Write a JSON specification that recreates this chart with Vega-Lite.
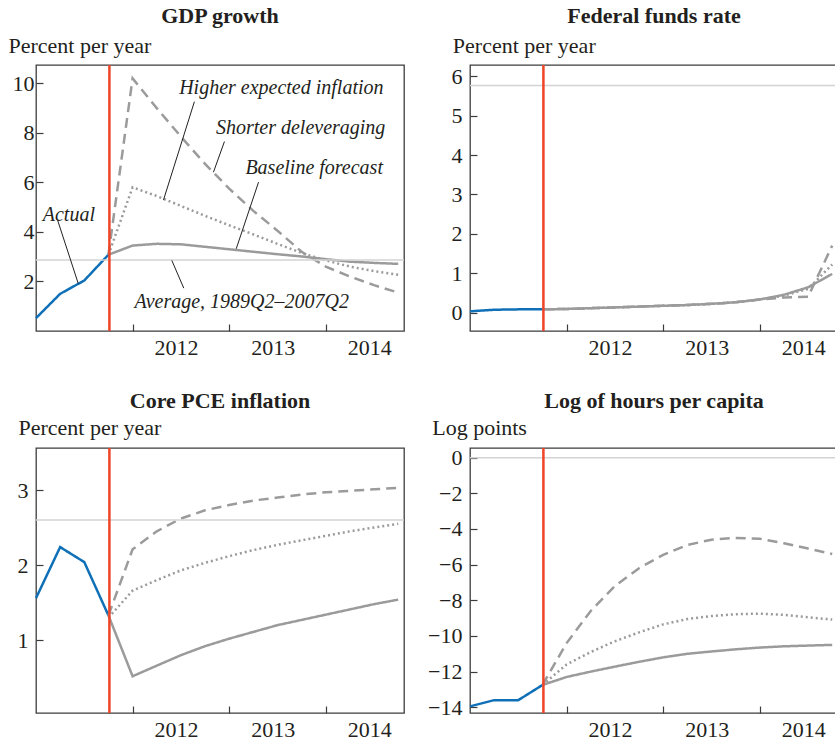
{
  "$schema": "https://vega.github.io/schema/vega-lite/v6.json",
  "padding": {"left": 7, "top": 4, "right": 0, "bottom": 0},
  "columns": 2,
  "align": "each",
  "spacing": {"row": 30, "column": 20},
  "datasets": {
    "lines": [
      {"p":"gdp","s":"Actual","t":2011,"v":0.52},{"p":"gdp","s":"Actual","t":2011.25,"v":1.5},{"p":"gdp","s":"Actual","t":2011.5,"v":2.04},{"p":"gdp","s":"Actual","t":2011.75,"v":3.08},
      {"p":"gdp","s":"Baseline","t":2011.75,"v":3.08},{"p":"gdp","s":"Baseline","t":2012,"v":3.45},{"p":"gdp","s":"Baseline","t":2012.25,"v":3.52},{"p":"gdp","s":"Baseline","t":2012.5,"v":3.5},{"p":"gdp","s":"Baseline","t":2012.75,"v":3.4},{"p":"gdp","s":"Baseline","t":2013,"v":3.3},{"p":"gdp","s":"Baseline","t":2013.25,"v":3.2},{"p":"gdp","s":"Baseline","t":2013.5,"v":3.1},{"p":"gdp","s":"Baseline","t":2013.75,"v":3.01},{"p":"gdp","s":"Baseline","t":2014,"v":2.9},{"p":"gdp","s":"Baseline","t":2014.25,"v":2.8},{"p":"gdp","s":"Baseline","t":2014.5,"v":2.75},{"p":"gdp","s":"Baseline","t":2014.75,"v":2.71},
      {"p":"gdp","s":"Higher","t":2011.75,"v":3.08},{"p":"gdp","s":"Higher","t":2012,"v":10.2},{"p":"gdp","s":"Higher","t":2012.25,"v":9.0},{"p":"gdp","s":"Higher","t":2012.5,"v":7.85},{"p":"gdp","s":"Higher","t":2012.75,"v":6.75},{"p":"gdp","s":"Higher","t":2013,"v":5.75},{"p":"gdp","s":"Higher","t":2013.25,"v":4.85},{"p":"gdp","s":"Higher","t":2013.5,"v":4.05},{"p":"gdp","s":"Higher","t":2013.75,"v":3.2},{"p":"gdp","s":"Higher","t":2014,"v":2.6},{"p":"gdp","s":"Higher","t":2014.25,"v":2.2},{"p":"gdp","s":"Higher","t":2014.5,"v":1.85},{"p":"gdp","s":"Higher","t":2014.75,"v":1.55},
      {"p":"gdp","s":"Shorter","t":2011.75,"v":3.08},{"p":"gdp","s":"Shorter","t":2012,"v":5.8},{"p":"gdp","s":"Shorter","t":2012.25,"v":5.45},{"p":"gdp","s":"Shorter","t":2012.5,"v":5.05},{"p":"gdp","s":"Shorter","t":2012.75,"v":4.65},{"p":"gdp","s":"Shorter","t":2013,"v":4.27},{"p":"gdp","s":"Shorter","t":2013.25,"v":3.9},{"p":"gdp","s":"Shorter","t":2013.5,"v":3.52},{"p":"gdp","s":"Shorter","t":2013.75,"v":3.15},{"p":"gdp","s":"Shorter","t":2014,"v":2.85},{"p":"gdp","s":"Shorter","t":2014.25,"v":2.6},{"p":"gdp","s":"Shorter","t":2014.5,"v":2.42},{"p":"gdp","s":"Shorter","t":2014.75,"v":2.27},

      {"p":"ffr","s":"Actual","t":2011,"v":0.03},{"p":"ffr","s":"Actual","t":2011.25,"v":0.07},{"p":"ffr","s":"Actual","t":2011.5,"v":0.08},{"p":"ffr","s":"Actual","t":2011.75,"v":0.08},
      {"p":"ffr","s":"Baseline","t":2011.75,"v":0.08},{"p":"ffr","s":"Baseline","t":2012,"v":0.09},{"p":"ffr","s":"Baseline","t":2012.25,"v":0.11},{"p":"ffr","s":"Baseline","t":2012.5,"v":0.13},{"p":"ffr","s":"Baseline","t":2012.75,"v":0.15},{"p":"ffr","s":"Baseline","t":2013,"v":0.17},{"p":"ffr","s":"Baseline","t":2013.25,"v":0.19},{"p":"ffr","s":"Baseline","t":2013.5,"v":0.22},{"p":"ffr","s":"Baseline","t":2013.75,"v":0.26},{"p":"ffr","s":"Baseline","t":2014,"v":0.33},{"p":"ffr","s":"Baseline","t":2014.25,"v":0.45},{"p":"ffr","s":"Baseline","t":2014.5,"v":0.64},{"p":"ffr","s":"Baseline","t":2014.75,"v":0.98},
      {"p":"ffr","s":"Higher","t":2011.75,"v":0.08},{"p":"ffr","s":"Higher","t":2012,"v":0.09},{"p":"ffr","s":"Higher","t":2012.25,"v":0.11},{"p":"ffr","s":"Higher","t":2012.5,"v":0.13},{"p":"ffr","s":"Higher","t":2012.75,"v":0.15},{"p":"ffr","s":"Higher","t":2013,"v":0.17},{"p":"ffr","s":"Higher","t":2013.25,"v":0.19},{"p":"ffr","s":"Higher","t":2013.5,"v":0.22},{"p":"ffr","s":"Higher","t":2013.75,"v":0.26},{"p":"ffr","s":"Higher","t":2014,"v":0.33},{"p":"ffr","s":"Higher","t":2014.25,"v":0.38},{"p":"ffr","s":"Higher","t":2014.5,"v":0.4},{"p":"ffr","s":"Higher","t":2014.75,"v":1.7},
      {"p":"ffr","s":"Shorter","t":2011.75,"v":0.08},{"p":"ffr","s":"Shorter","t":2012,"v":0.09},{"p":"ffr","s":"Shorter","t":2012.25,"v":0.11},{"p":"ffr","s":"Shorter","t":2012.5,"v":0.13},{"p":"ffr","s":"Shorter","t":2012.75,"v":0.15},{"p":"ffr","s":"Shorter","t":2013,"v":0.17},{"p":"ffr","s":"Shorter","t":2013.25,"v":0.19},{"p":"ffr","s":"Shorter","t":2013.5,"v":0.22},{"p":"ffr","s":"Shorter","t":2013.75,"v":0.26},{"p":"ffr","s":"Shorter","t":2014,"v":0.33},{"p":"ffr","s":"Shorter","t":2014.25,"v":0.43},{"p":"ffr","s":"Shorter","t":2014.5,"v":0.6},{"p":"ffr","s":"Shorter","t":2014.75,"v":1.22},

      {"p":"pce","s":"Actual","t":2011,"v":1.56},{"p":"pce","s":"Actual","t":2011.25,"v":2.24},{"p":"pce","s":"Actual","t":2011.5,"v":2.04},{"p":"pce","s":"Actual","t":2011.75,"v":1.33},
      {"p":"pce","s":"Baseline","t":2011.75,"v":1.33},{"p":"pce","s":"Baseline","t":2012,"v":0.52},{"p":"pce","s":"Baseline","t":2012.25,"v":0.66},{"p":"pce","s":"Baseline","t":2012.5,"v":0.8},{"p":"pce","s":"Baseline","t":2012.75,"v":0.92},{"p":"pce","s":"Baseline","t":2013,"v":1.02},{"p":"pce","s":"Baseline","t":2013.25,"v":1.11},{"p":"pce","s":"Baseline","t":2013.5,"v":1.2},{"p":"pce","s":"Baseline","t":2013.75,"v":1.27},{"p":"pce","s":"Baseline","t":2014,"v":1.34},{"p":"pce","s":"Baseline","t":2014.25,"v":1.41},{"p":"pce","s":"Baseline","t":2014.5,"v":1.48},{"p":"pce","s":"Baseline","t":2014.75,"v":1.54},
      {"p":"pce","s":"Higher","t":2011.75,"v":1.33},{"p":"pce","s":"Higher","t":2012,"v":2.21},{"p":"pce","s":"Higher","t":2012.25,"v":2.45},{"p":"pce","s":"Higher","t":2012.5,"v":2.62},{"p":"pce","s":"Higher","t":2012.75,"v":2.73},{"p":"pce","s":"Higher","t":2013,"v":2.8},{"p":"pce","s":"Higher","t":2013.25,"v":2.86},{"p":"pce","s":"Higher","t":2013.5,"v":2.9},{"p":"pce","s":"Higher","t":2013.75,"v":2.94},{"p":"pce","s":"Higher","t":2014,"v":2.97},{"p":"pce","s":"Higher","t":2014.25,"v":2.99},{"p":"pce","s":"Higher","t":2014.5,"v":3.01},{"p":"pce","s":"Higher","t":2014.75,"v":3.03},
      {"p":"pce","s":"Shorter","t":2011.75,"v":1.3},{"p":"pce","s":"Shorter","t":2012,"v":1.66},{"p":"pce","s":"Shorter","t":2012.25,"v":1.8},{"p":"pce","s":"Shorter","t":2012.5,"v":1.93},{"p":"pce","s":"Shorter","t":2012.75,"v":2.03},{"p":"pce","s":"Shorter","t":2013,"v":2.12},{"p":"pce","s":"Shorter","t":2013.25,"v":2.2},{"p":"pce","s":"Shorter","t":2013.5,"v":2.27},{"p":"pce","s":"Shorter","t":2013.75,"v":2.33},{"p":"pce","s":"Shorter","t":2014,"v":2.39},{"p":"pce","s":"Shorter","t":2014.25,"v":2.45},{"p":"pce","s":"Shorter","t":2014.5,"v":2.5},{"p":"pce","s":"Shorter","t":2014.75,"v":2.55},

      {"p":"hrs","s":"Actual","t":2011,"v":-13.95},{"p":"hrs","s":"Actual","t":2011.25,"v":-13.6},{"p":"hrs","s":"Actual","t":2011.5,"v":-13.6},{"p":"hrs","s":"Actual","t":2011.75,"v":-12.75},
      {"p":"hrs","s":"Baseline","t":2011.75,"v":-12.75},{"p":"hrs","s":"Baseline","t":2012,"v":-12.3},{"p":"hrs","s":"Baseline","t":2012.25,"v":-12.0},{"p":"hrs","s":"Baseline","t":2012.5,"v":-11.72},{"p":"hrs","s":"Baseline","t":2012.75,"v":-11.45},{"p":"hrs","s":"Baseline","t":2013,"v":-11.2},{"p":"hrs","s":"Baseline","t":2013.25,"v":-11.0},{"p":"hrs","s":"Baseline","t":2013.5,"v":-10.87},{"p":"hrs","s":"Baseline","t":2013.75,"v":-10.75},{"p":"hrs","s":"Baseline","t":2014,"v":-10.65},{"p":"hrs","s":"Baseline","t":2014.25,"v":-10.58},{"p":"hrs","s":"Baseline","t":2014.5,"v":-10.54},{"p":"hrs","s":"Baseline","t":2014.75,"v":-10.5},
      {"p":"hrs","s":"Higher","t":2011.75,"v":-12.75},{"p":"hrs","s":"Higher","t":2012,"v":-10.4},{"p":"hrs","s":"Higher","t":2012.25,"v":-8.6},{"p":"hrs","s":"Higher","t":2012.5,"v":-7.2},{"p":"hrs","s":"Higher","t":2012.75,"v":-6.2},{"p":"hrs","s":"Higher","t":2013,"v":-5.45},{"p":"hrs","s":"Higher","t":2013.25,"v":-4.9},{"p":"hrs","s":"Higher","t":2013.5,"v":-4.6},{"p":"hrs","s":"Higher","t":2013.75,"v":-4.5},{"p":"hrs","s":"Higher","t":2014,"v":-4.55},{"p":"hrs","s":"Higher","t":2014.25,"v":-4.8},{"p":"hrs","s":"Higher","t":2014.5,"v":-5.1},{"p":"hrs","s":"Higher","t":2014.75,"v":-5.4},
      {"p":"hrs","s":"Shorter","t":2011.75,"v":-12.75},{"p":"hrs","s":"Shorter","t":2012,"v":-11.6},{"p":"hrs","s":"Shorter","t":2012.25,"v":-10.9},{"p":"hrs","s":"Shorter","t":2012.5,"v":-10.3},{"p":"hrs","s":"Shorter","t":2012.75,"v":-9.8},{"p":"hrs","s":"Shorter","t":2013,"v":-9.35},{"p":"hrs","s":"Shorter","t":2013.25,"v":-9.05},{"p":"hrs","s":"Shorter","t":2013.5,"v":-8.88},{"p":"hrs","s":"Shorter","t":2013.75,"v":-8.78},{"p":"hrs","s":"Shorter","t":2014,"v":-8.75},{"p":"hrs","s":"Shorter","t":2014.25,"v":-8.82},{"p":"hrs","s":"Shorter","t":2014.5,"v":-8.95},{"p":"hrs","s":"Shorter","t":2014.75,"v":-9.08}
    ],
    "refs": [
      {"p":"gdp","now":2011.76,"avg":2.87},
      {"p":"ffr","now":2011.76,"avg":5.77},
      {"p":"pce","now":2011.76,"avg":2.6},
      {"p":"hrs","now":2011.76,"avg":0}
    ],
    "notes": [
      {"txt":"Higher expected inflation","t":2013.54,"v":9.81},
      {"txt":"Shorter deleveraging","t":2013.74,"v":8.19},
      {"txt":"Baseline forecast","t":2013.88,"v":6.58},
      {"txt":"Actual","t":2011.34,"v":4.69},
      {"txt":"Average, 1989Q2–2007Q2","t":2013.13,"v":1.19}
    ],
    "leaders": [
      {"t":2011.225,"v":4.46,"t2":2011.438,"v2":1.91},
      {"t":2012.64,"v":9.26,"t2":2012.32,"v2":5.29},
      {"t":2012.951,"v":7.65,"t2":2012.837,"v2":6.41},
      {"t":2013.304,"v":6.01,"t2":2013.073,"v2":3.32},
      {"t":2012.406,"v":2.85,"t2":2012.53,"v2":1.73}
    ]
  },
  "concat": [
    {
      "width": 368, "height": 266,
      "title": "GDP growth",
      "layer": [
        {"data":{"name":"lines"},"transform":[{"filter":"datum.p=='gdp'"}],"mark":{"type":"line","strokeWidth":2.5},
         "encoding":{
           "x":{"field":"t","type":"quantitative","scale":{"domain":[2011,2014.81],"nice":false,"zero":false},"axis":{"values":[2012,2013,2014],"format":"d","labelOffset":43.5,"title":null}},
           "y":{"field":"v","type":"quantitative","scale":{"domain":[0,10.74],"nice":false,"zero":false},"axis":{"title":"Percent per year","values":[2,4,6,8,10],"tickCount":20,"format":"d","labelOverlap":false,"titleX":-28,"titleY":-12.7,"labelPadding":9}},
           "color":{"field":"s","type":"nominal","scale":{"domain":["Actual","Baseline","Shorter","Higher"],"range":["#0f70b7","#9b9b9b","#9b9b9b","#9b9b9b"]},"legend":null},
           "strokeDash":{"field":"s","type":"nominal","scale":{"domain":["Actual","Baseline","Shorter","Higher"],"range":[[1,0],[1,0],[2,3],[10,6]]},"legend":null}}},
        {"data":{"name":"refs"},"transform":[{"filter":"datum.p=='gdp'"}],"mark":{"type":"rule","color":"#d3d3d3","strokeWidth":1.5},
         "encoding":{"y":{"field":"avg","type":"quantitative"}}},
        {"data":{"name":"refs"},"transform":[{"filter":"datum.p=='gdp'"}],"mark":{"type":"rule","color":"#ee4427","strokeWidth":2.5},
         "encoding":{"x":{"field":"now","type":"quantitative"}}},
        {"data":{"name":"leaders"},"mark":{"type":"rule","color":"#231f20","strokeWidth":1},
         "encoding":{"x":{"field":"t","type":"quantitative"},"y":{"field":"v","type":"quantitative"},"x2":{"field":"t2"},"y2":{"field":"v2"}}},
        {"data":{"name":"notes"},"mark":{"type":"text","font":"Liberation Serif","fontStyle":"italic","fontSize":20,"align":"center","baseline":"middle","color":"#231f20"},
         "encoding":{"x":{"field":"t","type":"quantitative"},"y":{"field":"v","type":"quantitative"},"text":{"field":"txt"}}}
      ]
    },
    {
      "width": 368, "height": 266,
      "title": "Federal funds rate",
      "layer": [
        {"data":{"name":"lines"},"transform":[{"filter":"datum.p=='ffr'"}],"mark":{"type":"line","strokeWidth":2.5},
         "encoding":{
           "x":{"field":"t","type":"quantitative","scale":{"domain":[2011,2014.81],"nice":false,"zero":false},"axis":{"values":[2012,2013,2014],"format":"d","labelOffset":43.5,"title":null}},
           "y":{"field":"v","type":"quantitative","scale":{"domain":[-0.47,6.29],"nice":false,"zero":false},"axis":{"title":"Percent per year","values":[0,1,2,3,4,5,6],"tickCount":20,"format":"d","labelOverlap":false,"titleX":-17.7,"titleY":-12.7,"labelPadding":15}},
           "color":{"field":"s","type":"nominal","scale":{"domain":["Actual","Baseline","Shorter","Higher"],"range":["#0f70b7","#9b9b9b","#9b9b9b","#9b9b9b"]},"legend":null},
           "strokeDash":{"field":"s","type":"nominal","scale":{"domain":["Actual","Baseline","Shorter","Higher"],"range":[[1,0],[1,0],[2,3],[10,6]]},"legend":null}}},
        {"data":{"name":"refs"},"transform":[{"filter":"datum.p=='ffr'"}],"mark":{"type":"rule","color":"#d3d3d3","strokeWidth":1.5},
         "encoding":{"y":{"field":"avg","type":"quantitative"}}},
        {"data":{"name":"refs"},"transform":[{"filter":"datum.p=='ffr'"}],"mark":{"type":"rule","color":"#ee4427","strokeWidth":2.5},
         "encoding":{"x":{"field":"now","type":"quantitative"}}}
      ]
    },
    {
      "width": 368, "height": 265,
      "title": {"text": "Core PCE inflation", "offset": 3},
      "layer": [
        {"data":{"name":"lines"},"transform":[{"filter":"datum.p=='pce'"}],"mark":{"type":"line","strokeWidth":2.5},
         "encoding":{
           "x":{"field":"t","type":"quantitative","scale":{"domain":[2011,2014.81],"nice":false,"zero":false},"axis":{"values":[2012,2013,2014],"format":"d","labelOffset":43.5,"title":null}},
           "y":{"field":"v","type":"quantitative","scale":{"domain":[0.03,3.56],"nice":false,"zero":false},"axis":{"title":"Percent per year","values":[1,2,3],"tickCount":20,"format":"d","labelOverlap":false,"titleX":-18,"titleY":-14,"labelPadding":15}},
           "color":{"field":"s","type":"nominal","scale":{"domain":["Actual","Baseline","Shorter","Higher"],"range":["#0f70b7","#9b9b9b","#9b9b9b","#9b9b9b"]},"legend":null},
           "strokeDash":{"field":"s","type":"nominal","scale":{"domain":["Actual","Baseline","Shorter","Higher"],"range":[[1,0],[1,0],[2,3],[10,6]]},"legend":null}}},
        {"data":{"name":"refs"},"transform":[{"filter":"datum.p=='pce'"}],"mark":{"type":"rule","color":"#d3d3d3","strokeWidth":1.5},
         "encoding":{"y":{"field":"avg","type":"quantitative"}}},
        {"data":{"name":"refs"},"transform":[{"filter":"datum.p=='pce'"}],"mark":{"type":"rule","color":"#ee4427","strokeWidth":2.5},
         "encoding":{"x":{"field":"now","type":"quantitative"}}}
      ]
    },
    {
      "width": 368, "height": 265,
      "title": {"text": "Log of hours per capita", "offset": 3},
      "layer": [
        {"data":{"name":"lines"},"transform":[{"filter":"datum.p=='hrs'"}],"mark":{"type":"line","strokeWidth":2.5},
         "encoding":{
           "x":{"field":"t","type":"quantitative","scale":{"domain":[2011,2014.81],"nice":false,"zero":false},"axis":{"values":[2012,2013,2014],"format":"d","labelOffset":43.5,"title":null}},
           "y":{"field":"v","type":"quantitative","scale":{"domain":[-14.32,0.54],"nice":false,"zero":false},"axis":{"title":"Log points","values":[0,-2,-4,-6,-8,-10,-12,-14],"tickCount":20,"format":"d","labelOverlap":false,"titleX":-38.3,"titleY":-14,"labelPadding":15}},
           "color":{"field":"s","type":"nominal","scale":{"domain":["Actual","Baseline","Shorter","Higher"],"range":["#0f70b7","#9b9b9b","#9b9b9b","#9b9b9b"]},"legend":null},
           "strokeDash":{"field":"s","type":"nominal","scale":{"domain":["Actual","Baseline","Shorter","Higher"],"range":[[1,0],[1,0],[2,3],[10,6]]},"legend":null}}},
        {"data":{"name":"refs"},"transform":[{"filter":"datum.p=='hrs'"}],"mark":{"type":"rule","color":"#d3d3d3","strokeWidth":1.5},
         "encoding":{"y":{"field":"avg","type":"quantitative"}}},
        {"data":{"name":"refs"},"transform":[{"filter":"datum.p=='hrs'"}],"mark":{"type":"rule","color":"#ee4427","strokeWidth":2.5},
         "encoding":{"x":{"field":"now","type":"quantitative"}}}
      ]
    }
  ],
  "config": {
    "font": "Liberation Serif",
    "view": {"stroke": "#3c3c3c", "strokeWidth": 1.3},
    "title": {"font": "Liberation Serif", "fontSize": 22, "fontWeight": "bold", "color": "#231f20", "anchor": "middle", "offset": 6},
    "axis": {
      "grid": false, "domain": false,
      "tickSize": -7, "tickColor": "#3c3c3c", "tickWidth": 1.2,
      "labelFont": "Liberation Serif", "labelFontSize": 22, "labelColor": "#231f20",
      "labelOverlap": false, "labelFlush": false, "labelBound": false,
      "titleFont": "Liberation Serif", "titleFontSize": 22, "titleFontWeight": "normal", "titleColor": "#231f20"
    },
    "axisX": {"labelBaseline": "alphabetic", "labelPadding": 30},
    "axisY": {"titleAngle": 0, "titleAlign": "left", "titleBaseline": "alphabetic"}
  }
}
